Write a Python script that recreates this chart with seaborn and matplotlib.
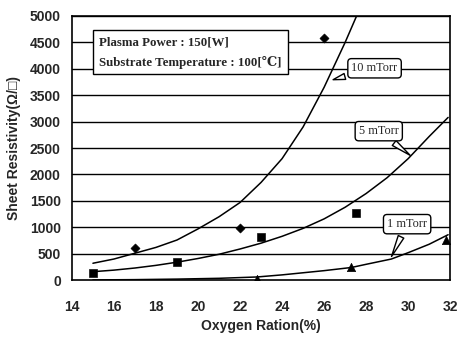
import numpy as np
import pandas as pd
import matplotlib
matplotlib.use("Agg")
import matplotlib.pyplot as plt
import seaborn as sns

# measured points
x_10 = [17, 22, 26]
y_10 = [610, 990, 4580]
x_5 = [15, 19, 23, 27.5]
y_5 = [140, 345, 815, 1280]
x_1 = [22.8, 27.3, 31.8]
y_1 = [30, 250, 760]

# trend curves
cx_10 = [15, 16, 17, 18, 19, 20, 21, 22, 23, 24, 25, 26, 27, 27.6]
cy_10 = [320, 400, 510, 620, 760, 970, 1200, 1470, 1850, 2300, 2900, 3650, 4500, 5050]
cx_5 = [15, 16, 17, 18, 19, 20, 21, 22, 23, 24, 25, 26, 27, 28, 29, 30, 31, 31.9]
cy_5 = [160, 190, 230, 280, 340, 410, 490, 590, 700, 830, 980, 1160, 1380, 1640, 1940, 2300, 2720, 3080]
cx_1 = [15, 17, 19, 21, 22.8, 24, 25, 26, 27.3, 28, 29.2, 30, 31, 31.9]
cy_1 = [5, 10, 20, 35, 60, 100, 140, 180, 240, 300, 400, 520, 680, 860]

yticks = list(range(0, 5001, 500))
xticks = list(range(14, 33, 2))

sns.set_style("white")
plt.rcParams['font.family'] = ['Liberation Sans Narrow', 'Liberation Sans', 'DejaVu Sans']

fig = plt.figure(figsize=(4.58, 3.40), dpi=100)
ax = fig.add_axes([0.157, 0.176, 0.826, 0.777])

for y in yticks[1:]:
    ax.axhline(y, color="black", lw=1.0, zorder=1)

for cx, cy in [(cx_10, cy_10), (cx_5, cy_5), (cx_1, cy_1)]:
    sns.lineplot(x=cx, y=cy, ax=ax, color="black", lw=1.1, sort=False, zorder=3)

sns.scatterplot(x=x_10, y=y_10, ax=ax, marker="D", s=22, color="black", edgecolor="black", zorder=4)
sns.scatterplot(x=x_5, y=y_5, ax=ax, marker="s", s=30, color="black", edgecolor="black", zorder=4)
sns.scatterplot(x=x_1, y=y_1, ax=ax, marker="^", s=36, color="black", edgecolor="black", zorder=4)

ax.set_xlim(14, 32)
ax.set_ylim(0, 5000)
ax.set_xticks(xticks)
ax.set_yticks(yticks)
ax.tick_params(axis="x", direction="in", length=4, width=1, pad=14, labelsize=10)
ax.tick_params(axis="y", length=0, pad=8, labelsize=10)
for lab in ax.get_xticklabels() + ax.get_yticklabels():
    lab.set_fontweight("bold")
for sp in ax.spines.values():
    sp.set_color("black")
    sp.set_linewidth(1.2)

ax.set_xlabel("Oxygen Ration(%)", fontsize=10, fontweight="bold", labelpad=4)
ax.set_ylabel("Sheet Resistivity(Ω/□)", fontsize=10, fontweight="bold", labelpad=6)

serif = ['Liberation Serif', 'DejaVu Serif']
ax.text(15.3, 4310, "Plasma Power : 150[W]\nSubstrate Temperature : 100[℃]",
        family=serif, fontsize=9.3, fontweight="bold", va="center", ha="left",
        linespacing=1.75, zorder=6,
        bbox=dict(boxstyle="square,pad=0.45", fc="white", ec="black", lw=1))

callouts = [("10 mTorr", (28.4, 4010), (26.3, 3780)),
            ("5 mTorr", (28.6, 2820), (30.2, 2330)),
            ("1 mTorr", (29.95, 1060), (29.15, 400))]
for txt, xytext, xy in callouts:
    ax.annotate(txt, xy=xy, xytext=xytext, family=serif, fontsize=8.8,
                ha="center", va="center", zorder=7,
                bbox=dict(boxstyle="round,pad=0.3", fc="white", ec="black", lw=1),
                arrowprops=dict(arrowstyle="wedge,tail_width=0.5", fc="white", ec="black", lw=1))

fig.savefig("out.png", dpi=100)
